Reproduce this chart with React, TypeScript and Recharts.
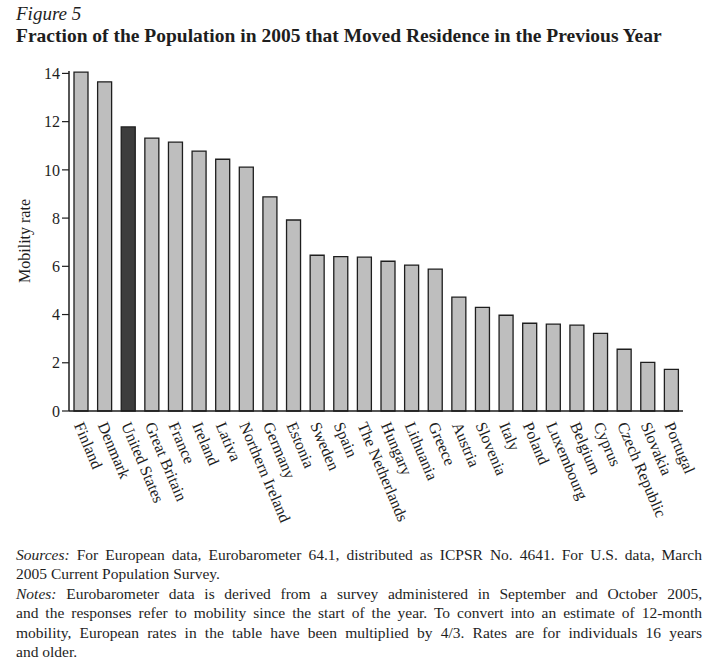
import React from 'react';
import { BarChart, Bar, XAxis, YAxis, Cell } from 'recharts';

const countries = [
  'Finland', 'Denmark', 'United States', 'Great Britain', 'France', 'Ireland',
  'Lativa', 'Northern Ireland', 'Germany', 'Estonia', 'Sweden', 'Spain',
  'The Netherlands', 'Hungary', 'Lithuania', 'Greece', 'Austria', 'Slovenia',
  'Italy', 'Poland', 'Luxembourg', 'Belgium', 'Cyprus', 'Czech Republic',
  'Slovakia', 'Portugal',
];

const mobilityRates = [
  14.05, 13.65, 11.78, 11.32, 11.15, 10.78, 10.44, 10.11, 8.88, 7.92, 6.46, 6.4,
  6.38, 6.21, 6.05, 5.88, 4.72, 4.3, 3.97, 3.64, 3.6, 3.56, 3.22, 2.56, 2.02, 1.73,
];

const yTicks = [0, 2, 4, 6, 8, 10, 12, 14];

const highlighted = 'United States';

// footnote lines, broken where the printed figure breaks them
const sourceLines = [
  'For European data, Eurobarometer 64.1, distributed as ICPSR No. 4641. For U.S. data, March',
  '2005 Current Population Survey.',
];
const noteLines = [
  'Eurobarometer data is derived from a survey administered in September and October 2005,',
  'and the responses refer to mobility since the start of the year. To convert into an estimate of 12-month',
  'mobility, European rates in the table have been multiplied by 4/3. Rates are for individuals 16 years',
  'and older.',
];

const data = countries.map((name, i) => ({ name, value: mobilityRates[i] }));

const serif = '"Liberation Serif", "DejaVu Serif", serif';
const ink = '#1e1e1e';

function CountryTick(props: any) {
  const { x, y, payload } = props;
  const ax = x - 7;
  const ay = y + 6;
  return (
    <text
      x={ax}
      y={ay}
      transform={`rotate(67, ${ax}, ${ay})`}
      textAnchor="start"
      fontSize={16}
      fontFamily={serif}
      fill={ink}
    >
      {payload.value}
    </text>
  );
}

function AxisTitle(props: any) {
  const vb = props.viewBox || { x: 0, y: 0, width: 0, height: 0 };
  const cx = vb.x + 21;
  const cy = vb.y + vb.height / 2;
  return (
    <text
      x={cx}
      y={cy}
      transform={`rotate(-90, ${cx}, ${cy})`}
      textAnchor="middle"
      fontSize={16}
      fontFamily={serif}
      fill={ink}
    >
      Mobility rate
    </text>
  );
}

function FootLines({ label, lines }: { label: string; lines: string[] }) {
  return (
    <>
      {lines.map((line, i) => {
        const last = i === lines.length - 1;
        return (
          <div
            key={i}
            style={{
              textAlign: last ? 'left' : 'justify',
              textAlignLast: last ? 'left' : 'justify',
              whiteSpace: 'nowrap',
            }}
          >
            {i === 0 && <i>{label}</i>}
            {i === 0 ? ' ' : ''}
            {line}
          </div>
        );
      })}
    </>
  );
}

export default function App() {
  return (
    <div
      style={{
        position: 'absolute',
        left: 0,
        top: 0,
        width: 709,
        height: 662,
        background: '#fff',
        fontFamily: serif,
        color: ink,
      }}
    >
      <div style={{ position: 'absolute', left: 16, top: 3, fontSize: 19, fontStyle: 'italic' }}>
        Figure 5
      </div>
      <div style={{ position: 'absolute', left: 16, top: 25, fontSize: 19.5, fontWeight: 'bold', whiteSpace: 'nowrap' }}>
        Fraction of the Population in 2005 that Moved Residence in the Previous Year
      </div>

      <div style={{ position: 'absolute', left: 0, top: 0 }}>
        <BarChart
          width={709}
          height={540}
          data={data}
          margin={{ top: 71, right: 26, left: 9, bottom: 9 }}
          barSize={14}
        >
          <XAxis
            dataKey="name"
            interval={0}
            height={120}
            tickLine={false}
            axisLine={{ stroke: ink, strokeWidth: 1.5 }}
            tick={<CountryTick />}
          />
          <YAxis
            width={60}
            domain={[0, 14.1]}
            ticks={yTicks}
            tickSize={7}
            tickMargin={2}
            axisLine={{ stroke: ink, strokeWidth: 1.5 }}
            tickLine={{ stroke: ink, strokeWidth: 1.2 }}
            tick={{ fontSize: 16, fontFamily: serif, fill: ink }}
            label={{ content: <AxisTitle /> }}
          />
          <Bar dataKey="value" stroke={ink} strokeWidth={1.3} isAnimationActive={false}>
            {data.map((d) => (
              <Cell key={d.name} fill={d.name === highlighted ? '#3d3d3d' : '#bebebe'} />
            ))}
          </Bar>
        </BarChart>
      </div>

      <div
        style={{
          position: 'absolute',
          left: 16,
          top: 545,
          width: 686,
          fontSize: 15.5,
          lineHeight: '19.4px',
        }}
      >
        <FootLines label="Sources:" lines={sourceLines} />
        <FootLines label="Notes:" lines={noteLines} />
      </div>
    </div>
  );
}
